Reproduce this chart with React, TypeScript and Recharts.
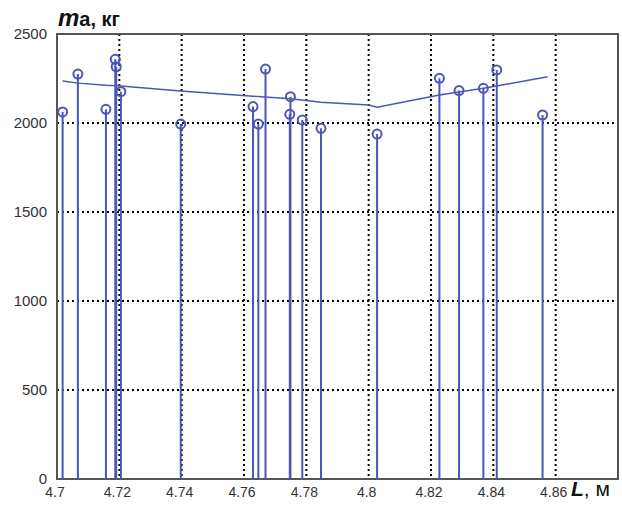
import React from 'react';
import {
  ComposedChart,
  Scatter,
  XAxis,
  YAxis,
  CartesianGrid,
  ReferenceLine,
  ReferenceArea,
} from 'recharts';

// lengths (m) and masses (kg) of the measured points
const lengths = [
  4.7018, 4.7067, 4.7157, 4.7187, 4.719, 4.7205, 4.7397, 4.7629, 4.7646, 4.7669,
  4.7749, 4.7747, 4.7787, 4.7847, 4.8027, 4.8227, 4.829, 4.8368, 4.8411, 4.8558,
];
const masses = [
  2062, 2275, 2077, 2358, 2316, 2176, 1994, 2092, 1994, 2303,
  2148, 2049, 2017, 1970, 1938, 2251, 2182, 2195, 2298, 2045,
];

// fitted trend line
const trendLengths = [
  4.7018, 4.7067, 4.7157, 4.7205, 4.7397, 4.7629, 4.7749, 4.7847, 4.8, 4.8027,
  4.8227, 4.8368, 4.8411, 4.8574,
];
const trendMasses = [
  2236, 2224, 2212, 2208, 2180, 2150, 2136, 2116, 2101, 2088, 2157, 2195, 2208, 2260,
];

const xTicks = [4.7, 4.72, 4.74, 4.76, 4.78, 4.8, 4.82, 4.84, 4.86, 4.88];
const yTicks = [0, 500, 1000, 1500, 2000, 2500];

const BLUE = '#4b56b8';
const FONT = '"Liberation Sans", Arial, sans-serif';

const points = lengths.map((l, i) => ({ l, m: masses[i] }));
const trend = trendLengths.map((l, i) => ({ l, m: trendMasses[i] }));

const Ring = (props: any) => {
  const { cx, cy } = props;
  if (cx == null || cy == null) return <g />;
  return <circle cx={cx} cy={cy} r={4.5} fill="none" stroke={BLUE} strokeWidth={2} />;
};

export default function App() {
  return (
    <div style={{ position: 'relative', width: 622, height: 506, background: '#fff' }}>
      <style>{'body{margin:0}'}</style>
      <ComposedChart width={622} height={506} margin={{ top: 34, right: 4, left: 0, bottom: 0 }}>
        <CartesianGrid stroke="#000" strokeDasharray="2 3" strokeWidth={2} />
        <XAxis
          type="number"
          dataKey="l"
          domain={[4.7, 4.88]}
          ticks={xTicks}
          interval={0}
          height={27}
          axisLine={false}
          tickLine={false}
          tick={{ fill: '#333', fontSize: 14, fontFamily: FONT, dx: -2 }}
          tickFormatter={(v: number) => (v > 4.87 ? '' : String(Number(v.toFixed(2))))}
        />
        <YAxis
          type="number"
          dataKey="m"
          domain={[0, 2500]}
          ticks={yTicks}
          interval={0}
          width={57}
          axisLine={false}
          tickLine={false}
          tick={{ fill: '#333', fontSize: 15, fontFamily: FONT, dx: -2 }}
        />
        <ReferenceArea
          x1={4.7}
          x2={4.88}
          y1={0}
          y2={2500}
          fill="none"
          stroke="#555"
          strokeWidth={2}
        />
        {points.map((p, i) => (
          <ReferenceLine
            key={`stem-${i}`}
            segment={[
              { x: p.l, y: 0 },
              { x: p.l, y: p.m },
            ]}
            stroke={BLUE}
            strokeWidth={2}
          />
        ))}
        <Scatter
          data={trend}
          line={{ stroke: BLUE, strokeWidth: 1.5 }}
          shape={() => <g />}
          isAnimationActive={false}
        />
        <Scatter data={points} shape={Ring} isAnimationActive={false} />
      </ComposedChart>

      <div
        style={{
          position: 'absolute',
          left: 58,
          top: 6,
          fontFamily: FONT,
          color: '#111',
          whiteSpace: 'nowrap',
          lineHeight: 1,
        }}
      >
        <span style={{ fontStyle: 'italic', fontSize: 24, fontWeight: 'bold' }}>m</span>
        <span style={{ fontSize: 20, fontWeight: 'bold' }}>a, кг</span>
      </div>
      <div
        style={{
          position: 'absolute',
          left: 571,
          top: 478,
          fontFamily: FONT,
          color: '#111',
          whiteSpace: 'nowrap',
          lineHeight: 1,
          fontSize: 21,
        }}
      >
        <span style={{ fontStyle: 'italic', fontWeight: 'bold' }}>L</span>
        <span>, м</span>
      </div>
    </div>
  );
}
